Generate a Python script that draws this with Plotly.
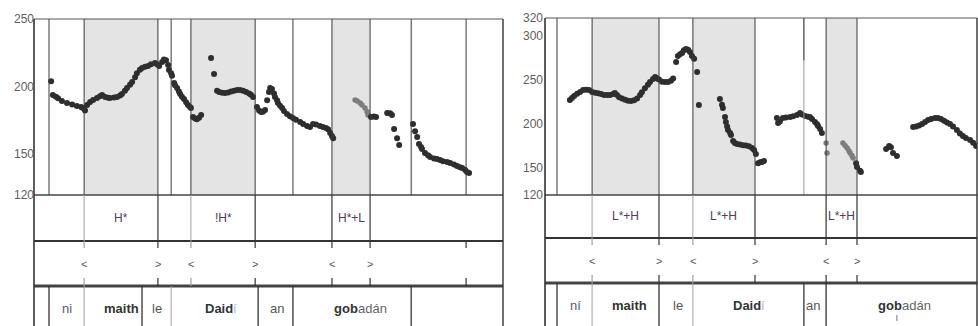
import plotly.graph_objects as go

W, H = 978, 326
FONT = "Liberation Sans, Arial, sans-serif"

# ---------------- left utterance: "ni maith le Daidí an gobadán" ----------------
L_DUR = 1.563
L_YRANGE = [120, 250]
L_YTICKS = [120, 150, 200, 250]

L_t = [0.057,
       0.063, 0.073, 0.080, 0.093, 0.110, 0.127, 0.143, 0.157, 0.163, 0.170,
       0.177, 0.187, 0.197, 0.210, 0.220, 0.227, 0.237, 0.247, 0.253, 0.267,
       0.277, 0.287, 0.293, 0.303, 0.310, 0.320, 0.327, 0.337, 0.343, 0.353,
       0.360, 0.370, 0.380, 0.390, 0.403, 0.410, 0.417, 0.427, 0.433, 0.440,
       0.447, 0.450, 0.457, 0.460, 0.467, 0.470, 0.477, 0.483, 0.487, 0.493,
       0.500, 0.507, 0.513, 0.520, 0.523, 0.530, 0.537, 0.543, 0.550, 0.557,
       0.590, 0.600,
       0.610, 0.617, 0.627, 0.637, 0.647, 0.657, 0.667, 0.677, 0.687, 0.697,
       0.707, 0.717, 0.723, 0.730,
       0.743, 0.750, 0.757, 0.763, 0.770,
       0.777, 0.783, 0.787, 0.793, 0.800, 0.803, 0.810, 0.813, 0.820, 0.827,
       0.833, 0.843, 0.853, 0.863, 0.873, 0.887, 0.897, 0.910, 0.920, 0.930,
       0.940, 0.953, 0.963, 0.973, 0.980, 0.987, 0.993, 0.997,
       1.123, 1.133, 1.140,
       1.177, 1.187, 1.193, 1.200, 1.210, 1.217,
       1.263, 1.270, 1.277, 1.283, 1.290, 1.293, 1.303, 1.313, 1.320, 1.333,
       1.343, 1.353, 1.363, 1.377, 1.387, 1.400, 1.410, 1.420, 1.427, 1.437,
       1.443, 1.450]
L_hz = [204.0,
        193.8, 192.5, 191.4, 189.5, 188.0, 186.8, 185.7, 185.0, 184.3, 182.5,
        186.5, 188.7, 190.2, 191.6, 193.0, 193.9, 192.4, 191.8, 191.7, 192.0,
        192.4, 193.5, 194.6, 197.0, 199.0, 201.5, 203.5, 207.0, 210.0, 212.5,
        213.8, 214.8, 215.3, 216.5, 217.5, 216.5, 215.3, 218.2, 220.0, 219.5,
        216.0, 212.3, 210.0, 208.0, 202.7, 201.0, 199.0, 196.5, 194.6, 192.5,
        190.9, 188.5, 186.5, 185.0, 184.3, 177.6, 176.5, 176.0, 177.0, 179.0,
        221.2, 209.4,
        197.0, 196.0, 195.5, 195.3, 195.8, 196.5, 197.0, 197.6, 197.6, 197.0,
        196.0, 195.0, 194.0, 192.4,
        185.0, 182.5, 181.3, 181.5, 182.8,
        190.0, 196.0, 199.0, 198.3, 195.0, 192.4, 190.0, 188.0, 186.0, 184.3,
        182.0, 179.8, 178.2, 176.9, 175.5, 174.0, 172.5, 171.0, 170.2, 172.5,
        172.0, 171.0, 170.3, 169.5, 168.5, 165.8, 163.5, 162.0,
        177.6, 178.0, 177.6,
        180.6, 180.3, 179.0, 168.8, 162.0, 157.0,
        172.5, 167.0, 162.8, 157.7, 155.5, 154.0, 151.0, 149.3, 148.0, 147.0,
        146.6, 145.8, 145.0, 144.3, 143.7, 142.5, 141.4, 140.5, 140.0, 138.5,
        137.0, 136.3]
# weakly voiced stretch drawn in grey
L_t_faint = [1.070, 1.077, 1.087, 1.093, 1.103, 1.110, 1.113]
L_hz_faint = [190.2, 189.5, 188.0, 186.5, 184.3, 181.5, 179.0]

L_plot_lines = [0.050, 0.167, 0.413, 0.457, 0.523, 0.737, 0.863, 0.993, 1.120, 1.257, 1.440]
L_accent_start = [0.167, 0.523, 0.993]
L_accent_end = [0.413, 0.737, 1.120]
L_tones = ["H*", "!H*", "H*+L"]
L_tone_dark = [0.413, 0.737, 0.993, 1.120]
L_tone_faint = [0.167, 0.523]
L_break_extra = [1.440]
L_word_dark = [0.050, 0.360, 0.747, 0.863, 1.257]
L_word_faint = [0.167, 0.457]
L_words = ["ni", "maith", "le", "Daidí", "an", "gobadán"]
L_stressed = ["", "maith", "", "Daid", "", "gob"]
L_word_pos = [0.110, 0.293, 0.410, 0.623, 0.810, 1.087]

# ---------------- right utterance: "ní maith le Daidí an gobadán" ----------------
R_DUR = 1.44
R_YRANGE = [120, 320]
R_YTICKS = [120, 150, 200, 250, 300, 320]

R_t = [0.083, 0.090, 0.097, 0.107, 0.117, 0.127, 0.137, 0.147, 0.157, 0.167,
       0.177, 0.187, 0.197, 0.207, 0.217, 0.227, 0.233, 0.240, 0.247, 0.257,
       0.267, 0.277, 0.287, 0.297, 0.307, 0.317, 0.323, 0.333, 0.343, 0.350,
       0.360, 0.367, 0.373, 0.380, 0.390, 0.400, 0.410, 0.420, 0.427,
       0.437, 0.443, 0.450, 0.457, 0.463, 0.470, 0.477, 0.483, 0.490, 0.497,
       0.507, 0.513,
       0.583, 0.590, 0.593, 0.600, 0.603, 0.607, 0.610, 0.617, 0.620, 0.627,
       0.633, 0.640, 0.650, 0.660, 0.670, 0.680, 0.690, 0.697, 0.703,
       0.710, 0.717, 0.723, 0.730,
       0.773, 0.777, 0.783, 0.793, 0.803, 0.817, 0.827, 0.840, 0.850, 0.857,
       0.867, 0.877, 0.883, 0.890, 0.900, 0.907, 0.910, 0.917, 0.923,
       1.037, 1.040, 1.050, 1.053,
       1.137, 1.147, 1.153, 1.160, 1.173,
       1.227, 1.237, 1.247, 1.257, 1.267, 1.277, 1.287, 1.300, 1.310, 1.320,
       1.330, 1.340, 1.350, 1.360, 1.373, 1.383, 1.393, 1.403, 1.417, 1.427,
       1.437]
R_hz = [227.3, 229.5, 232.0, 234.5, 236.5, 238.6, 239.0, 238.6, 236.4, 235.5,
        235.0, 234.0, 233.0, 233.0, 233.0, 234.0, 235.3, 233.0, 230.5, 229.0,
        227.5, 226.5, 226.2, 227.0, 229.0, 233.0, 236.0, 240.5, 244.5, 247.7,
        251.0, 253.3, 252.0, 250.5, 248.0, 247.7, 247.7, 249.0, 251.5,
        270.3, 277.0, 279.0, 280.4, 283.5, 285.0, 284.0, 281.6, 277.0, 274.0,
        259.0, 221.7,
        228.5, 222.0, 218.3, 208.0, 202.5, 197.5, 193.4, 190.0, 187.8, 181.0,
        178.8, 177.6, 177.2, 176.3, 175.8, 175.0, 173.0, 170.8, 166.3,
        156.0, 157.0, 157.3, 158.4,
        207.0, 201.4, 203.0, 207.0, 207.5, 208.0, 209.0, 210.4, 212.6, 211.0,
        209.3, 208.5, 208.0, 206.0, 202.5, 200.0, 198.0, 194.5, 190.0,
        156.0, 151.6, 147.5, 146.0,
        172.0, 175.4, 174.0, 167.5, 164.0,
        196.8, 197.5, 198.5, 200.2, 202.5, 204.7, 206.0, 207.0, 207.0, 206.0,
        204.0, 202.0, 200.2, 197.5, 193.4, 189.5, 186.7, 184.5, 182.2, 179.0,
        175.5]
R_t_faint = [0.937, 0.940, 0.993, 1.000, 1.007, 1.013, 1.017, 1.023, 1.027]
R_hz_faint = [178.8, 167.5, 178.8, 176.0, 173.0, 170.0, 167.5, 164.5, 161.8]

R_plot_lines = [0.040, 0.157, 0.380, 0.493, 0.700, 0.937, 1.040]
R_partial_line = 0.863
R_accent_start = [0.157, 0.493, 0.937]
R_accent_end = [0.380, 0.700, 1.040]
R_tones = ["L*+H", "L*+H", "L*+H"]
R_tone_dark = [0.380, 0.700, 0.937, 1.040]
R_tone_faint = [0.157, 0.493]
R_break_extra = []
R_word_dark = [0.040, 0.380, 0.863, 0.937]
R_word_faint = [0.157, 0.493]
R_words = ["ní", "maith", "le", "Daidí", "an", "gobadán"]
R_stressed = ["", "maith", "", "Daid", "", "gob"]
R_word_pos = [0.103, 0.280, 0.443, 0.680, 0.893, 1.197]

DARK = "#2e2e2e"
FAINT = "#a0a0a0"
SHADE = "#e4e4e4"
WORD_SIZE = 13

# approximate advance widths (em) of Liberation Sans, used to split a word
# into its bold stressed syllable and the plain remainder
BOLD_EM = {"D": .722, "a": .556, "i": .278, "d": .611, "g": .611, "o": .611, "b": .611,
           "m": .889, "t": .333, "h": .611}
REG_EM = {"a": .556, "d": .556, "n": .556, "á": .556, "í": .278, "i": .222}


def py(px):
    """pixel row -> paper fraction"""
    return 1 - px / H


def label(xref, yref, x, y, text, size, color, **kw):
    d = dict(xref=xref, yref=yref, x=x, y=y, text=text, showarrow=False,
             xanchor="center", yanchor="middle", font=dict(family=FONT, size=size, color=color))
    d.update(kw)
    return d


fig = go.Figure()
shapes = []
annotations = []

panels = [
    dict(xa="x", ya="y", dom=[34 / W, 503 / W], top=19, t1=241, t2=286, dur=L_DUR, yr=L_YRANGE,
         yt=L_YTICKS, t=L_t, hz=L_hz, tf=L_t_faint, hzf=L_hz_faint, lines=L_plot_lines, partial=None,
         a0=L_accent_start, a1=L_accent_end, tones=L_tones, td=L_tone_dark, tfa=L_tone_faint,
         bx=L_break_extra, wd=L_word_dark, wf=L_word_faint, words=L_words, stress=L_stressed,
         wp=L_word_pos, ticklab_shift=2, word_y=308, tone_y=218, brk_y=264),
    dict(xa="x2", ya="y2", dom=[545 / W, 977 / W], top=18, t1=238, t2=283, dur=R_DUR, yr=R_YRANGE,
         yt=R_YTICKS, t=R_t, hz=R_hz, tf=R_t_faint, hzf=R_hz_faint, lines=R_plot_lines, partial=R_partial_line,
         a0=R_accent_start, a1=R_accent_end, tones=R_tones, td=R_tone_dark, tfa=R_tone_faint,
         bx=R_break_extra, wd=R_word_dark, wf=R_word_faint, words=R_words, stress=R_stressed,
         wp=R_word_pos, ticklab_shift=0, word_y=305, tone_y=216, brk_y=261),
]

plot_bottom = 195
for i, p in enumerate(panels):
    xa, ya = p["xa"], p["ya"]
    xdom = xa + " domain"
    suffix = "" if i == 0 else "2"
    fig.update_layout(**{
        "xaxis" + suffix: dict(domain=p["dom"], range=[0, p["dur"]], visible=False, fixedrange=True,
                               anchor=ya),
        "yaxis" + suffix: dict(domain=[py(plot_bottom), py(p["top"])], range=p["yr"], visible=False,
                               fixedrange=True, anchor=xa),
    })
    px_per_s = (p["dom"][1] - p["dom"][0]) * W / p["dur"]

    # accent (shaded) intervals
    for s, e in zip(p["a0"], p["a1"]):
        shapes.append(dict(type="rect", xref=xa, yref=ya, x0=s, x1=e, y0=p["yr"][0], y1=p["yr"][1],
                           fillcolor=SHADE, line_width=0, layer="below"))

    # segment boundaries in the pitch area
    for b in p["lines"]:
        shapes.append(dict(type="line", xref=xa, yref=ya, x0=b, x1=b, y0=p["yr"][0], y1=p["yr"][1],
                           line=dict(color="#3a3a3a", width=1)))
    if p["partial"] is not None:
        b = p["partial"]
        shapes.append(dict(type="line", xref=xa, yref=ya, x0=b, x1=b, y0=272, y1=p["yr"][1],
                           line=dict(color="#3a3a3a", width=1.2)))
        shapes.append(dict(type="line", xref=xa, yref=ya, x0=b, x1=b, y0=p["yr"][0], y1=272,
                           line=dict(color="#9a9a9a", width=1)))

    # frame and tier rules
    shapes.append(dict(type="line", xref=xdom, yref="paper", x0=0, x1=1, y0=py(p["top"]), y1=py(p["top"]),
                       line=dict(color="#555", width=1)))
    for row, wdt, col in [(plot_bottom, 1.5, "#444"), (p["t1"], 2.2, "#333"), (p["t2"], 2.8, "#444")]:
        shapes.append(dict(type="line", xref=xdom, yref="paper", x0=0, x1=1, y0=py(row), y1=py(row),
                           line=dict(color=col, width=wdt)))
    for edge, wdt in [(0, 1.6), (1, 1.4)]:
        shapes.append(dict(type="line", xref=xdom, yref="paper", x0=edge, x1=edge, y0=py(p["top"]), y1=0,
                           line=dict(color="#333", width=wdt)))

    # tone tier
    for b in p["td"]:
        shapes.append(dict(type="line", xref=xa, yref="paper", x0=b, x1=b, y0=py(p["t1"]), y1=py(plot_bottom),
                           line=dict(color="#333", width=1.2)))
    for b in p["tfa"]:
        shapes.append(dict(type="line", xref=xa, yref="paper", x0=b, x1=b, y0=py(p["t1"]), y1=py(plot_bottom),
                           line=dict(color=FAINT, width=1)))
    for s, e, lab in zip(p["a0"], p["a1"], p["tones"]):
        annotations.append(label(xa, "paper", (s + e) / 2, py(p["tone_y"]), lab, 12, "#4f3d5a"))

    # break tier: ticks at top and bottom plus bracket marks
    ticks = list(p["a0"]) + list(p["a1"]) + list(p["bx"])
    for b in ticks:
        col = FAINT if b in p["tfa"] else "#333"
        shapes.append(dict(type="line", xref=xa, yref="paper", x0=b, x1=b, y0=py(p["t1"] + 7), y1=py(p["t1"]),
                           line=dict(color=col, width=1.2)))
        shapes.append(dict(type="line", xref=xa, yref="paper", x0=b, x1=b, y0=py(p["t2"]), y1=py(p["t2"] - 8),
                           line=dict(color=col, width=1.2)))
    for b in p["a0"]:
        annotations.append(label(xa, "paper", b, py(p["brk_y"]), "<", 11, "#555"))
    for b in p["a1"]:
        annotations.append(label(xa, "paper", b, py(p["brk_y"]), ">", 11, "#555"))

    # word tier
    for b in p["wd"]:
        shapes.append(dict(type="line", xref=xa, yref="paper", x0=b, x1=b, y0=0, y1=py(p["t2"]),
                           line=dict(color="#333", width=1.3)))
    for b in p["wf"]:
        shapes.append(dict(type="line", xref=xa, yref="paper", x0=b, x1=b, y0=0, y1=py(p["t2"]),
                           line=dict(color=FAINT, width=1)))
    wy = py(p["word_y"])
    for word, stress, x in zip(p["words"], p["stress"], p["wp"]):
        rest = word[len(stress):]
        if not stress:
            col = "#5d5670" if word in ("ni", "ní") else "#555"
            annotations.append(label(xa, "paper", x, wy, word, WORD_SIZE, col))
        elif not rest:
            annotations.append(label(xa, "paper", x, wy, word, WORD_SIZE, "#333",
                                     font=dict(family=FONT, size=WORD_SIZE, color="#333", weight="bold")))
        else:
            bold_w = sum(BOLD_EM[c] for c in stress) * WORD_SIZE
            rest_w = sum(REG_EM[c] for c in rest) * WORD_SIZE
            split = x + (bold_w - (bold_w + rest_w) / 2) / px_per_s
            rest_col = "#b5b5b5" if len(rest) == 1 else "#666"
            annotations.append(label(xa, "paper", split, wy, stress, WORD_SIZE, "#333", xanchor="right",
                                     borderpad=0, borderwidth=0,
                                     font=dict(family=FONT, size=WORD_SIZE, color="#333", weight="bold")))
            annotations.append(label(xa, "paper", split, wy, rest, WORD_SIZE, rest_col, xanchor="left",
                                     borderpad=0, borderwidth=0))

    # frequency labels sitting on the axis line
    for v in p["yt"]:
        annotations.append(label(xdom, ya, 0, v, str(v), 12, "#5e5e5e",
                                 xanchor="right", xshift=p["ticklab_shift"]))

    # pitch track
    fig.add_trace(go.Scatter(x=p["tf"], y=p["hzf"], xaxis=xa, yaxis=ya, mode="markers",
                             marker=dict(size=5.5, color="#7d7d7d"), hoverinfo="skip", showlegend=False))
    fig.add_trace(go.Scatter(x=p["t"], y=p["hz"], xaxis=xa, yaxis=ya, mode="markers",
                             marker=dict(size=6, color=DARK), hoverinfo="skip", showlegend=False))

# small stroke under "gobadán" in the right word tier
shapes.append(dict(type="line", xref="x2", yref="paper", x0=1.173, x1=1.173, y0=py(321), y1=py(315),
                   line=dict(color="#777", width=1)))

fig.update_layout(width=W, height=H, margin=dict(l=0, r=0, t=0, b=0),
                  paper_bgcolor="white", plot_bgcolor="white",
                  shapes=shapes, annotations=annotations, showlegend=False)

fig.write_html("out.html")
